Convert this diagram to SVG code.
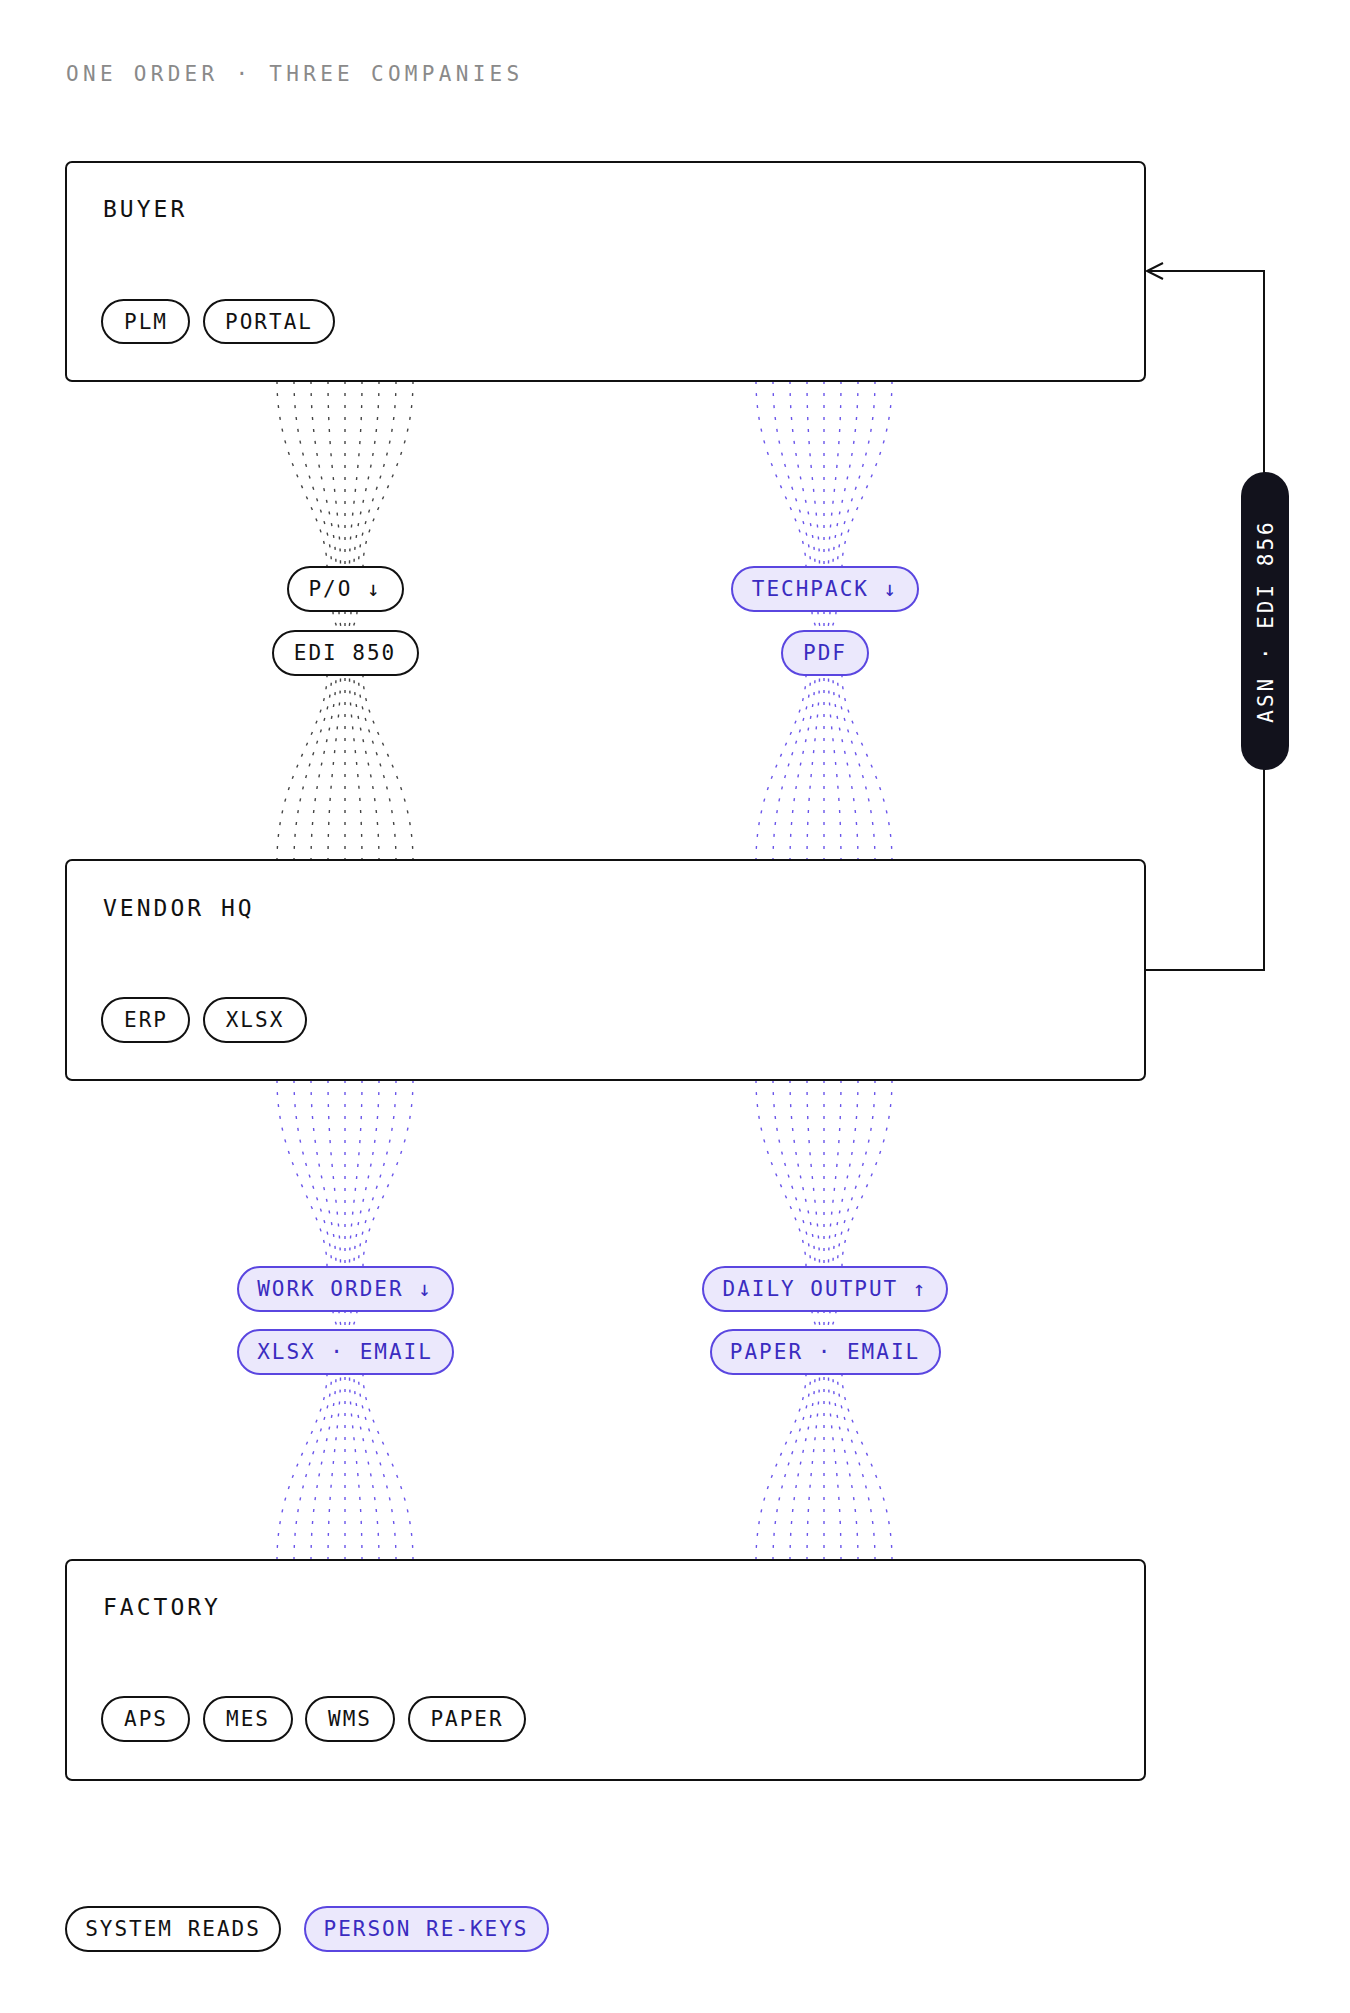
<svg xmlns="http://www.w3.org/2000/svg" xmlns:xlink="http://www.w3.org/1999/xlink" width="1350" height="2013" viewBox="0 0 1350 2013">
<style>
.mono{font-family:"DejaVu Sans Mono","Liberation Mono",monospace}
.title{font-size:21px;fill:#8a8a8a;letter-spacing:4.3px}
.box{fill:#fff;stroke:#111;stroke-width:2}
.lbl{font-size:23px;fill:#111;letter-spacing:3px}
.pill{fill:#fff;stroke:#111;stroke-width:2}
.pt{font-size:21px;fill:#111;letter-spacing:2px;text-anchor:middle}
.ppill{fill:#ebe8fc;stroke:#5a46e0;stroke-width:2}
.ppt{font-size:21px;fill:#3a2cc0;letter-spacing:2px;text-anchor:middle}
.fk{fill:none;stroke:#444;stroke-width:1.4;stroke-dasharray:3 9}
.fp{fill:none;stroke:#6a55ea;stroke-width:1.4;stroke-dasharray:3 9}
</style>
<defs>
<g id="fan">
<path d="M-68,0 C-68,90 -18,130 -18,186"/><path d="M-51,0 C-51,90 -13.5,130 -13.5,186"/><path d="M-34,0 C-34,90 -9,130 -9,186"/><path d="M-17,0 C-17,90 -4.5,130 -4.5,186"/><path d="M0,0 L0,186"/><path d="M17,0 C17,90 4.5,130 4.5,186"/><path d="M34,0 C34,90 9,130 9,186"/><path d="M51,0 C51,90 13.5,130 13.5,186"/><path d="M68,0 C68,90 18,130 18,186"/>
</g>
<g id="mini">
<path d="M-12,0 C-12,10 -8,12 -8,20"/><path d="M-6,0 C-6,10 -4,12 -4,20"/><path d="M0,0 L0,20"/><path d="M6,0 C6,10 4,12 4,20"/><path d="M12,0 C12,10 8,12 8,20"/>
</g>
<marker id="open" markerWidth="20" markerHeight="20" refX="17" refY="10" orient="auto" markerUnits="userSpaceOnUse"><path d="M1,2 L17,10 L1,18" fill="none" stroke="#111" stroke-width="2"/></marker>
</defs>
<rect width="1350" height="2013" fill="#fff"/>
<text class="mono title" x="66" y="81">ONE ORDER · THREE COMPANIES</text>

<g id="connectors">
<g class="fk">
<use xlink:href="#fan" transform="translate(345,381)"/>
<use xlink:href="#mini" transform="translate(345,611)"/>
<use xlink:href="#fan" transform="translate(345,861) scale(1,-1)"/>
</g>
<g class="fp">
<use xlink:href="#fan" transform="translate(824,381)"/>
<use xlink:href="#mini" transform="translate(824,611)"/>
<use xlink:href="#fan" transform="translate(824,861) scale(1,-1)"/>
<use xlink:href="#fan" transform="translate(345,1080)"/>
<use xlink:href="#mini" transform="translate(345,1310)"/>
<use xlink:href="#fan" transform="translate(345,1560) scale(1,-1)"/>
<use xlink:href="#fan" transform="translate(824,1080)"/>
<use xlink:href="#mini" transform="translate(824,1310)"/>
<use xlink:href="#fan" transform="translate(824,1560) scale(1,-1)"/>
</g>
<path d="M1145,970 H1264 V271 H1147" fill="none" stroke="#111" stroke-width="2" marker-end="url(#open)"/>
</g>

<g id="buyer">
<rect class="box" x="66" y="162" width="1079" height="219" rx="6"/>
<text class="mono lbl" x="103" y="217">BUYER</text>
<rect class="pill" x="102" y="300" width="87" height="43" rx="21.5"/><text class="mono pt" x="146" y="329">PLM</text>
<rect class="pill" x="204" y="300" width="130" height="43" rx="21.5"/><text class="mono pt" x="269" y="329">PORTAL</text>
</g>
<g id="vendor">
<rect class="box" x="66" y="860" width="1079" height="220" rx="6"/>
<text class="mono lbl" x="103" y="916">VENDOR HQ</text>
<rect class="pill" x="102" y="998" width="87" height="44" rx="22"/><text class="mono pt" x="146" y="1027">ERP</text>
<rect class="pill" x="204" y="998" width="102" height="44" rx="22"/><text class="mono pt" x="255" y="1027">XLSX</text>
</g>
<g id="factory">
<rect class="box" x="66" y="1560" width="1079" height="220" rx="6"/>
<text class="mono lbl" x="103" y="1615">FACTORY</text>
<rect class="pill" x="102" y="1697" width="87" height="44" rx="22"/><text class="mono pt" x="146" y="1726">APS</text>
<rect class="pill" x="204" y="1697" width="88" height="44" rx="22"/><text class="mono pt" x="248" y="1726">MES</text>
<rect class="pill" x="306" y="1697" width="88" height="44" rx="22"/><text class="mono pt" x="350" y="1726">WMS</text>
<rect class="pill" x="409" y="1697" width="116" height="44" rx="22"/><text class="mono pt" x="467" y="1726">PAPER</text>
</g>

<g id="po"><rect class="pill" x="288" y="567" width="115" height="44" rx="22"/><text class="mono pt" x="345" y="596">P/O ↓</text></g>
<g id="edi850"><rect class="pill" x="273" y="631" width="145" height="44" rx="22"/><text class="mono pt" x="345" y="660">EDI 850</text></g>
<g id="techpack"><rect class="ppill" x="732" y="567" width="186" height="44" rx="22"/><text class="mono ppt" x="825" y="596">TECHPACK ↓</text></g>
<g id="pdf"><rect class="ppill" x="782" y="631" width="86" height="44" rx="22"/><text class="mono ppt" x="825" y="660">PDF</text></g>
<g id="workorder"><rect class="ppill" x="238" y="1267" width="215" height="44" rx="22"/><text class="mono ppt" x="345" y="1296">WORK ORDER ↓</text></g>
<g id="xlsxemail"><rect class="ppill" x="238" y="1330" width="215" height="44" rx="22"/><text class="mono ppt" x="345" y="1359">XLSX · EMAIL</text></g>
<g id="dailyoutput"><rect class="ppill" x="703" y="1267" width="244" height="44" rx="22"/><text class="mono ppt" x="825" y="1296">DAILY OUTPUT ↑</text></g>
<g id="paperemail"><rect class="ppill" x="711" y="1330" width="229" height="44" rx="22"/><text class="mono ppt" x="825" y="1359">PAPER · EMAIL</text></g>

<g id="asn">
<rect x="1241" y="472" width="48" height="298" rx="24" fill="#12121c"/>
<text class="mono" transform="translate(1273,621) rotate(-90)" text-anchor="middle" font-size="21" fill="#fff" letter-spacing="3">ASN · EDI 856</text>
</g>

<g id="legend">
<rect class="pill" x="66" y="1907" width="214" height="44" rx="22"/><text class="mono pt" x="173" y="1936">SYSTEM READS</text>
<rect class="ppill" x="305" y="1907" width="243" height="44" rx="22"/><text class="mono ppt" x="426" y="1936">PERSON RE-KEYS</text>
</g>
</svg>
